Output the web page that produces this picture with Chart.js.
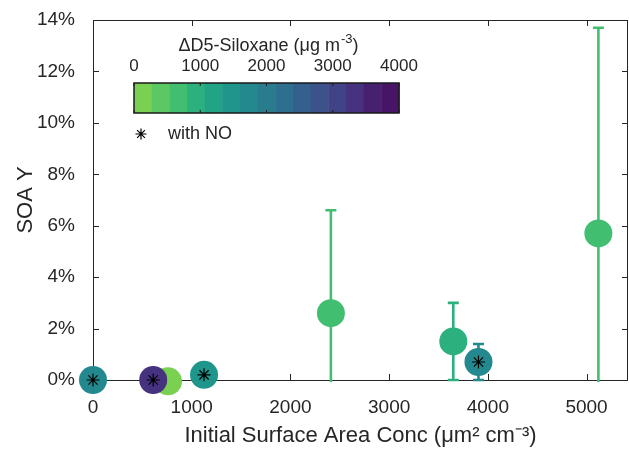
<!DOCTYPE html>
<html lang="en">
<head>
<meta charset="UTF-8" />
<title>SOA Yield vs Initial Surface Area</title>
<script src="https://cdn.jsdelivr.net/npm/chart.js"></script>
<style>
  body { margin: 0; background: #fff; }
</style>
</head>
<body>
<canvas id="soaChart" width="629" height="451"></canvas>
<script>
// data (order matters: later points are drawn on top)
const surfaceArea = [0, 760, 610, 1125, 2410, 3650, 3905, 5120];
const soaYield = [0, -0.05, 0, 0.2, 2.6, 1.5, 0.7, 5.7]; // percent
const yieldErr = [0, 0, 0, 0, 4.0, 1.5, 0.7, 8.0];
const d5Siloxane = [1700, 100, 3400, 1400, 650, 900, 1700, 650];
const withNO = [true, false, true, true, false, false, true, false];

const xTicks = [0, 1000, 2000, 3000, 4000, 5000];
const yTicks = [0, 2, 4, 6, 8, 10, 12, 14];
const cbTicks = [0, 1000, 2000, 3000, 4000];
const cbColors = [
  "#7ad151", "#5cc863", "#42be71", "#2cb17e", "#21a386",
  "#1f968b", "#23898e", "#297b8e", "#2e6e8e", "#355f8d",
  "#3b528b", "#414387", "#46327e", "#482070", "#481466"
];
const cbMin = 0, cbMax = 4000;

const FONT = "'Liberation Sans', Arial, Helvetica, sans-serif";
const TEXT = "#262626";

function colorFor(v) {
  let k = Math.floor((v - cbMin) / (cbMax - cbMin) * cbColors.length);
  k = Math.max(0, Math.min(cbColors.length - 1, k));
  return cbColors[k];
}

const circlePts = surfaceArea.map((sa, i) => ({ x: sa, y: soaYield[i] }));
const starPts = surfaceArea
  .map((sa, i) => ({ x: sa, y: soaYield[i] }))
  .filter((p, i) => withNO[i]);

const matlabAxes = {
  id: "matlabAxes",
  beforeDatasetsDraw(chart) {
    const { ctx, chartArea: a, scales: { x, y } } = chart;
    ctx.save();
    // box
    ctx.strokeStyle = TEXT;
    ctx.lineWidth = 1;
    ctx.strokeRect(a.left + 0.5, a.top + 0.5, a.right - a.left - 1, a.bottom - a.top);
    // inward ticks
    ctx.beginPath();
    xTicks.forEach(t => {
      const px = Math.round(x.getPixelForValue(t)) + 0.5;
      ctx.moveTo(px, a.bottom); ctx.lineTo(px, a.bottom - 6);
      ctx.moveTo(px, a.top); ctx.lineTo(px, a.top + 6);
    });
    yTicks.forEach(t => {
      const py = Math.round(y.getPixelForValue(t)) + 0.5;
      ctx.moveTo(a.left, py); ctx.lineTo(a.left + 6, py);
      ctx.moveTo(a.right, py); ctx.lineTo(a.right - 6, py);
    });
    ctx.stroke();

    // error bars
    ctx.beginPath();
    ctx.rect(a.left, a.top - 2, a.right - a.left, a.bottom - a.top + 4);
    ctx.clip();
    ctx.lineWidth = 2.6;
    surfaceArea.forEach((sa, i) => {
      const err = yieldErr[i];
      if (!err) return;
      const px = x.getPixelForValue(sa);
      const top = y.getPixelForValue(soaYield[i] + err);
      const bot = y.getPixelForValue(soaYield[i] - err);
      ctx.strokeStyle = colorFor(d5Siloxane[i]);
      ctx.beginPath();
      ctx.moveTo(px, top); ctx.lineTo(px, bot);
      ctx.moveTo(px - 5.5, top); ctx.lineTo(px + 5.5, top);
      ctx.moveTo(px - 5.5, bot); ctx.lineTo(px + 5.5, bot);
      ctx.stroke();
    });
    ctx.restore();
  },
  afterDraw(chart) {
    const { ctx } = chart;
    ctx.save();
    // colorbar inset
    const L = 134, R = 399, T = 83, B = 113;
    const segW = (R - L) / cbColors.length;
    cbColors.forEach((c, k) => {
      ctx.fillStyle = c;
      ctx.fillRect(L + k * segW, T, segW + 0.5, B - T);
    });
    ctx.strokeStyle = "#1a1a1a";
    ctx.lineWidth = 1.5;
    ctx.strokeRect(L, T, R - L, B - T);
    ctx.lineWidth = 1;
    ctx.beginPath();
    cbTicks.forEach(t => {
      const px = L + (t - cbMin) / (cbMax - cbMin) * (R - L);
      ctx.moveTo(px, T); ctx.lineTo(px, T + 3);
      ctx.moveTo(px, B); ctx.lineTo(px, B - 3);
    });
    ctx.stroke();

    ctx.fillStyle = TEXT;
    ctx.font = "17px " + FONT;
    ctx.textAlign = "center";
    ctx.textBaseline = "middle";
    cbTicks.forEach(t => {
      const px = L + (t - cbMin) / (cbMax - cbMin) * (R - L);
      ctx.fillText(String(t), px, 66);
    });

    // colorbar title with a raised exponent
    const main = "\u0394D5-Siloxane (\u03bcg m", sup = "-3", tail = ")";
    ctx.textAlign = "left";
    ctx.textBaseline = "alphabetic";
    ctx.font = "18px " + FONT;
    const wMain = ctx.measureText(main).width;
    const wTail = ctx.measureText(tail).width;
    ctx.font = "13px " + FONT;
    const wSup = ctx.measureText(sup).width;
    let tx = 268 - (wMain + wSup + wTail) / 2;
    ctx.font = "18px " + FONT;
    ctx.fillText(main, tx, 51);
    ctx.font = "13px " + FONT;
    ctx.fillText(sup, tx + wMain + 1, 43);
    ctx.font = "18px " + FONT;
    ctx.fillText(tail, tx + wMain + wSup + 1, 51);

    // legend for the NO marker
    ctx.strokeStyle = "#000";
    ctx.lineWidth = 1.2;
    const sx = 141, sy = 134, r = 5.5;
    ctx.beginPath();
    for (let k = 0; k < 4; k++) {
      const ang = k * Math.PI / 4;
      ctx.moveTo(sx - r * Math.cos(ang), sy - r * Math.sin(ang));
      ctx.lineTo(sx + r * Math.cos(ang), sy + r * Math.sin(ang));
    }
    ctx.stroke();
    ctx.font = "18px " + FONT;
    ctx.textBaseline = "middle";
    ctx.fillText("with NO", 168, 134);
    ctx.restore();
  }
};

new Chart(document.getElementById("soaChart"), {
  type: "scatter",
  data: {
    datasets: [
      {
        label: "with NO",
        data: starPts,
        pointStyle: "star",
        pointRadius: 6.5,
        pointBorderColor: "#000",
        pointBorderWidth: 1.2,
        pointBackgroundColor: "#000",
        clip: false,
        order: 0
      },
      {
        label: "SOA Y",
        data: circlePts,
        pointStyle: "circle",
        pointRadius: 14,
        pointBorderWidth: 0,
        pointBackgroundColor: d5Siloxane.map(colorFor),
        clip: false,
        order: 1
      }
    ]
  },
  options: {
    responsive: false,
    animation: false,
    layout: { autoPadding: false, padding: { top: 20, right: 1, left: 0, bottom: 0 } },
    plugins: { legend: { display: false }, tooltip: { enabled: false } },
    scales: {
      x: {
        type: "linear",
        min: 0,
        max: 5420,
        afterFit: s => { s.height = 71; s.paddingLeft = 0; s.paddingRight = 0; },
        afterBuildTicks: s => { s.ticks = xTicks.map(v => ({ value: v })); },
        grid: { display: false },
        border: { display: false },
        ticks: {
          includeBounds: false,
          padding: 8,
          maxRotation: 0,
          color: TEXT,
          font: { family: FONT, size: 19 },
          callback: v => String(v)
        },
        title: {
          display: true,
          text: "Initial Surface Area Conc (\u03bcm\u00b2 cm\u207b\u00b3)",
          color: TEXT,
          font: { family: FONT, size: 22 },
          padding: { top: 0, bottom: 2 }
        }
      },
      y: {
        type: "linear",
        min: 0,
        max: 14,
        afterFit: s => { s.width = 93; s.paddingTop = 0; s.paddingBottom = 0; },
        afterBuildTicks: s => { s.ticks = yTicks.map(v => ({ value: v })); },
        grid: { display: false },
        border: { display: false },
        ticks: {
          padding: 10,
          color: TEXT,
          font: { family: FONT, size: 19 },
          callback: v => v + "%"
        },
        title: {
          display: true,
          text: "SOA Y",
          color: TEXT,
          font: { family: FONT, size: 22 },
          padding: { top: 13, bottom: 0 }
        }
      }
    }
  },
  plugins: [matlabAxes]
});
</script>
</body>
</html>
